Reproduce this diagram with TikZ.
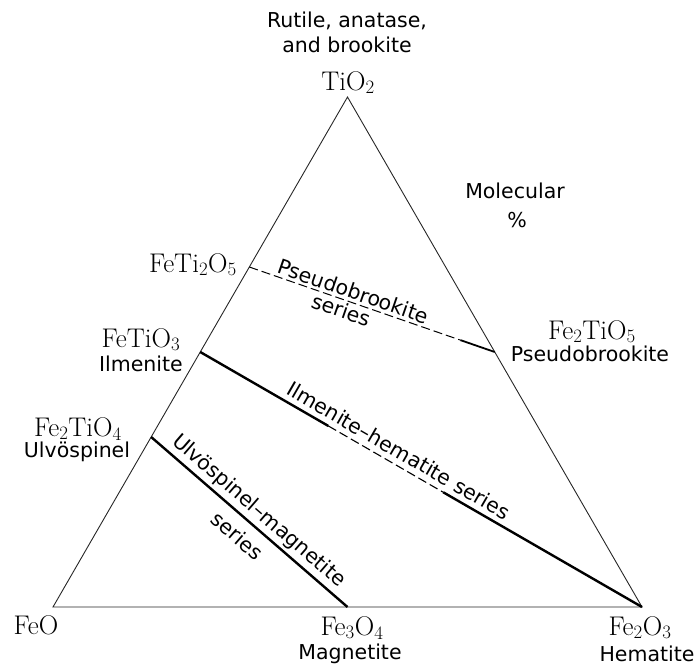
\documentclass[tikz,border=0pt]{standalone}
\usepackage{fontspec}
\setsansfont{DejaVu Sans}
\usetikzlibrary{calc,positioning}

\begin{document}
\begin{tikzpicture}[x=1pt,y=-1pt,
  side/.style={line width=0.9pt,black!85},
  series/.style={line width=2.4pt},
  dashline/.style={line width=1.1pt,dash pattern=on 9pt off 4pt},
  chem/.style={font=\fontsize{27}{30}\selectfont,inner sep=1pt,anchor=base},
  mineral/.style={font=\sffamily\fontsize{20.5}{25}\selectfont,inner sep=1pt,anchor=base},
  along/.style={font=\sffamily\fontsize{20.5}{25}\selectfont,sloped,inner sep=1pt}]
\useasboundingbox (0,0) rectangle (696,667);
% corners
\coordinate (feo) at (53,607);
\coordinate (hem) at (642,607);
\coordinate (tio) at (347.5,97);
% compounds on the sides
\coordinate (fti2) at ($(feo)!2/3!(tio)$);
\coordinate (ilm) at ($(feo)!1/2!(tio)$);
\coordinate (ulv) at ($(feo)!1/3!(tio)$);
\coordinate (mag) at ($(feo)!1/2!(hem)$);
\coordinate (psb) at ($(hem)!1/2!(tio)$);
% triangle
\draw[side] (feo) -- (tio) -- (hem) -- cycle;
% pseudobrookite series
\coordinate (pb1) at ($(fti2)!.86!(psb)$);
\draw[dashline,line width=1pt] (fti2) -- (pb1);
\draw[line width=1.8pt] (pb1) -- (psb);
\path (fti2) -- (psb)
  node[along,pos=.41,above=2pt] (pbtxt) {Pseudobrookite}
  node[along,pos=.39,below=1pt] (pbser) {series};
% ilmenite-hematite series
\coordinate (ih1) at ($(ilm)!.29!(hem)$);
\coordinate (ih2) at ($(ilm)!.55!(hem)$);
\draw[series] (ilm) -- (ih1);
\draw[dashline] (ih1) -- (ih2);
\draw[series] (ih2) -- (hem);
\path (ilm) -- (hem)
  node[along,pos=.434,above=5pt] (ihtxt) {Ilmenite--hematite series};
% ulvospinel-magnetite series
\draw[series] (ulv) -- (mag);
\path (ulv) -- (mag)
  node[along,pos=.5,above=3pt] (umtxt) {Ulvöspinel--magnetite}
  node[along,pos=.5,below=9pt] (umser) {series};
% labels
\node[mineral,anchor=north] (rut) at (347,11) {Rutile, anatase,};
\node[mineral] (brk) at (347,52) {and brookite};
\node[chem] (tio2) at (348,90) {TiO\textsubscript{2}};
\node[mineral] (mol) at (515,198) {Molecular};
\node[mineral] (pct) at (517,227) {\%};
\node[chem,anchor=base east] (fti2l) at (238,272) {FeTi\textsubscript{2}O\textsubscript{5}};
\node[chem] (ilml) at (141,347) {FeTiO\textsubscript{3}};
\node[mineral] (ilmn) at (141,371) {Ilmenite};
\node[chem] (ulvl) at (78,436) {Fe\textsubscript{2}TiO\textsubscript{4}};
\node[mineral] (ulvn) at (77,457) {Ulvöspinel};
\node[chem] (psbl) at (592,339) {Fe\textsubscript{2}TiO\textsubscript{5}};
\node[mineral] (psbn) at (590,361) {Pseudobrookite};
\node[chem] (feol) at (36,634) {FeO};
\node[chem] (magl) at (352,635) {Fe\textsubscript{3}O\textsubscript{4}};
\node[mineral] (magn) at (350,659) {Magnetite};
\node[chem] (heml) at (640,635) {Fe\textsubscript{2}O\textsubscript{3}};
\node[mineral] (hemn) at (647,661) {Hematite};
\end{tikzpicture}
\end{document}
